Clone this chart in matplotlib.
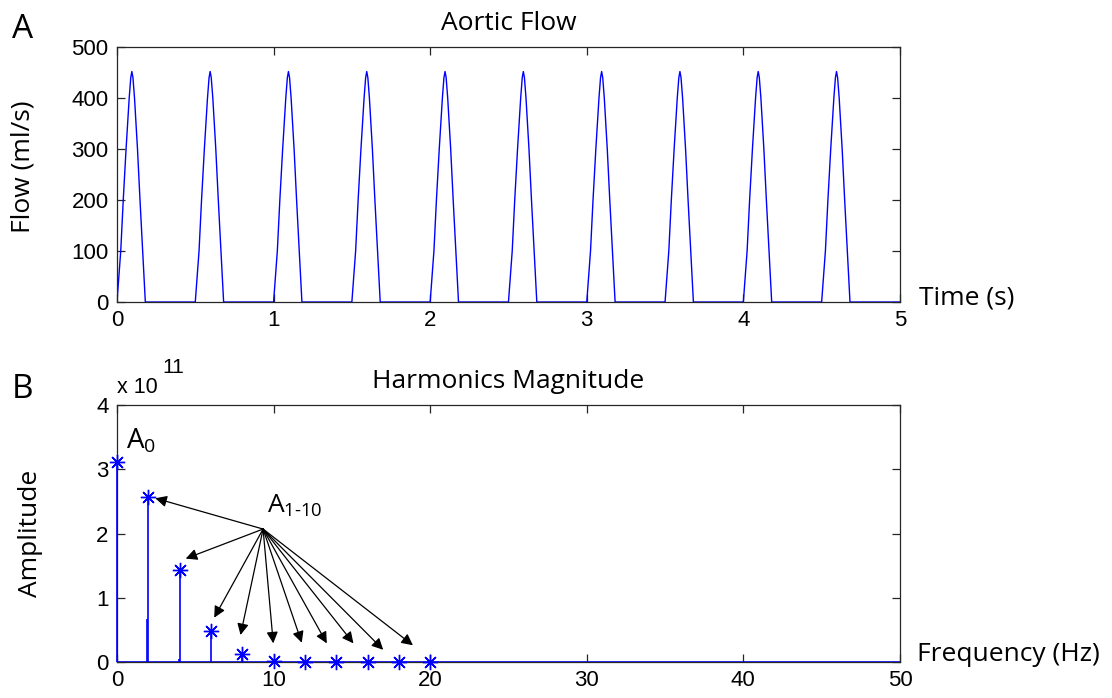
import matplotlib
matplotlib.use('Agg')
import matplotlib.pyplot as plt
import numpy as np

# Aortic flow: one ejection pulse (offset in s, flow in ml/s), repeated each beat
pulse_t = [0.0, 0.024, 0.040, 0.058, 0.078, 0.088, 0.095, 0.102, 0.112, 0.131, 0.147, 0.164, 0.181]
pulse_q = [0, 100, 200, 300, 400, 440, 452, 440, 400, 300, 200, 100, 0]
beat_onsets = [0.0, 0.5, 1.0, 1.5, 2.0, 2.5, 3.0, 3.5, 4.0, 4.5]
record_end = 5.0

# Harmonics magnitude (amplitude in units of 1e11)
harm_f = [0, 2, 4, 6, 8, 10, 12, 14, 16, 18, 20]
harm_a = [3.11, 2.57, 1.43, 0.49, 0.13, 0.01, 0.005, 0.005, 0.005, 0.005, 0.005]
side_f = [1.93, 3.95]
side_a = [0.67, 0.05]

# annotation arrows for A1-10 (data coords of bottom panel)
arrow_src = (9.33, 2.07)
arrow_dst_x = [2.45, 4.39, 6.21, 7.89, 9.98, 11.8, 13.4, 15.1, 17.0, 18.9]
arrow_dst_y = [2.55, 1.61, 0.69, 0.42, 0.29, 0.30, 0.29, 0.29, 0.19, 0.26]

plt.rcParams['mathtext.fontset'] = 'custom'
plt.rcParams['mathtext.rm'] = 'Open Sans'

LABEL = dict(family='Open Sans', fontsize=19)
TICKFONT = 'Liberation Sans'
BLUE = '#0000ff'

t = np.concatenate([np.array(pulse_t) + b for b in beat_onsets] + [[record_end]])
q = np.concatenate([np.array(pulse_q, dtype=float) for _ in beat_onsets] + [[0.0]])

fig = plt.figure(figsize=(11.12, 6.98), dpi=100)
ax1 = fig.add_axes([0.1052, 0.5673, 0.7041, 0.3653])
ax2 = fig.add_axes([0.1052, 0.0516, 0.7041, 0.368])


def style(ax):
    for s in ax.spines.values():
        s.set_linewidth(0.9)
        s.set_color('#262626')
    ax.tick_params(direction='in', length=6, width=0.9, color='#262626',
                   top=True, right=True, labelsize=16, pad=6)
    for lab in ax.get_xticklabels() + ax.get_yticklabels():
        lab.set_family(TICKFONT)


# top panel
ax1.plot(t, q, color=BLUE, lw=1.0)
ax1.set_xlim(0, 5)
ax1.set_ylim(0, 500)
ax1.set_xticks(range(0, 6))
ax1.set_yticks(range(0, 501, 100))
style(ax1)
ax1.set_title('Aortic Flow', pad=12, **LABEL)
ax1.set_ylabel('Flow (ml/s)', **LABEL)
ax1.yaxis.set_label_coords(-0.104, 0.53)
ax1.text(1.024, 0.015, 'Time (s)', transform=ax1.transAxes, ha='left', va='center', **LABEL)

# bottom panel
ax2.axhline(0, color=BLUE, lw=1.2, zorder=2)
ax2.vlines(harm_f, 0, harm_a, color=BLUE, lw=1.2, zorder=3, clip_on=False)
ax2.vlines(side_f, 0, side_a, color=BLUE, lw=1.2, zorder=3)
ax2.plot(harm_f, harm_a, ls='none', marker=(8, 2, 0), ms=11, mew=1.0,
         color=BLUE, zorder=4, clip_on=False)
ax2.set_xlim(0, 50)
ax2.set_ylim(0, 4)
ax2.set_xticks(range(0, 51, 10))
ax2.set_yticks(range(0, 5))
style(ax2)
ax2.set_title('Harmonics Magnitude', pad=12, **LABEL)
ax2.set_ylabel('Amplitude', **LABEL)
ax2.yaxis.set_label_coords(-0.095, 0.5)
ax2.text(1.022, 0.03, 'Frequency (Hz)', transform=ax2.transAxes, ha='left', va='center', **LABEL)
ax2.text(0.0, 1.047, 'x 10', transform=ax2.transAxes, ha='left', va='baseline',
         family=TICKFONT, fontsize=15.5)
ax2.text(0.058, 1.125, '11', transform=ax2.transAxes, ha='left', va='baseline',
         family=TICKFONT, fontsize=15)

ax2.text(0.58, 3.32, r'A$\mathregular{_{0}}$', family='Open Sans', fontsize=20)
ax2.text(9.6, 2.32, r'A$\mathregular{_{1\text{-}10}}$', family='Open Sans', fontsize=19)
for dx, dy in zip(arrow_dst_x, arrow_dst_y):
    ax2.annotate('', xy=(dx, dy), xytext=arrow_src,
                 arrowprops=dict(arrowstyle='-|>', color='black', lw=0.9,
                                 mutation_scale=17, shrinkA=0, shrinkB=0))

fig.text(0.011, 0.945, 'A', family='Open Sans', fontsize=24)
fig.text(0.011, 0.43, 'B', family='Open Sans', fontsize=24)

fig.savefig('out.png', dpi=100)
